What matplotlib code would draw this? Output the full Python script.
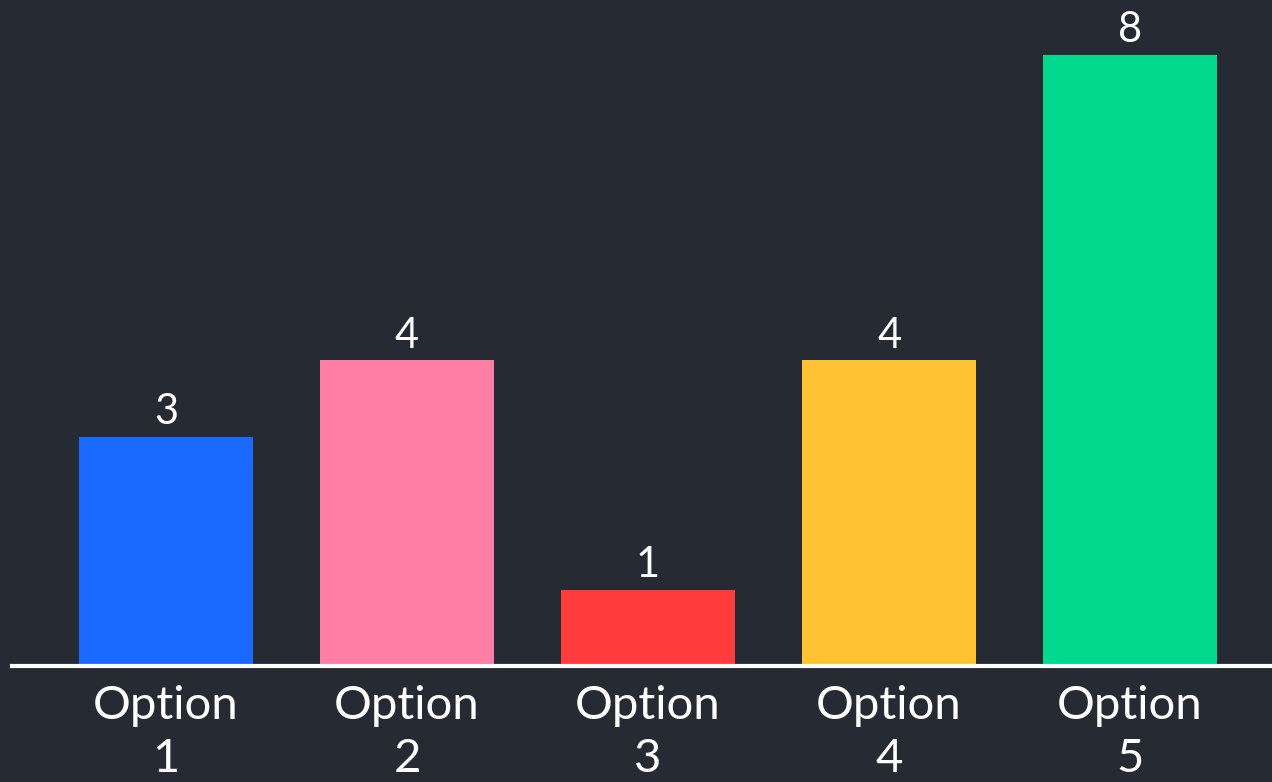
import matplotlib
matplotlib.use("Agg")
import matplotlib.pyplot as plt

categories = ["Option\n1", "Option\n2", "Option\n3", "Option\n4", "Option\n5"]
values = [3, 4, 1, 4, 8]
colors = ["#1b6aff", "#ff7ea6", "#ff3d3d", "#ffc233", "#00d98e"]

bg = "#262a33"
plt.rcParams['font.family'] = ['Lato', 'DejaVu Sans']

fig = plt.figure(figsize=(12.72, 7.82), dpi=100, facecolor=bg)
ax = fig.add_axes([12/1272, (782-666)/782, 1260/1272, 666/782])
ax.set_facecolor(bg)

x = list(range(len(values)))
bars = ax.bar(x, values, width=0.72, color=colors)
for xi, v in zip(x, values):
    ax.annotate(str(v), (xi, v), xytext=(0, 4), textcoords="offset points",
                ha="center", va="bottom", color="white", fontsize=30)

ax.set_xlim(-0.639, 4.589)
ax.set_ylim(0, 8.72)
ax.set_xticks(x)
ax.set_xticklabels(categories, fontsize=34, color="white", linespacing=1.3)
ax.tick_params(axis="x", length=0, pad=14)
ax.set_yticks([])
for s in ["top", "right", "left"]:
    ax.spines[s].set_visible(False)
ax.spines["bottom"].set_color("white")
ax.spines["bottom"].set_linewidth(3)

fig.savefig("out.png", dpi=100, facecolor=bg)
